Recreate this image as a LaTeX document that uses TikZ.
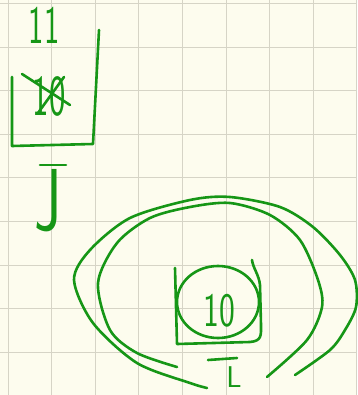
\documentclass[tikz,border=0pt]{standalone}
\usepackage{graphicx}
\definecolor{paper}{RGB}{253,252,238}
\definecolor{gridline}{RGB}{214,212,198}
\definecolor{ink}{RGB}{22,150,22}
\tikzset{pen/.style={ink,line width=2.6pt,line cap=round,line join=round},
  hand/.style={text=ink,inner sep=0pt,font=\sffamily\fontsize{#1}{#1}\selectfont}}
\begin{document}
\begin{tikzpicture}[x=1pt,y=-1pt]
  \fill[paper] (0,0) rectangle (357,395); \useasboundingbox (0,0) rectangle (357,395);
  \foreach \i in {0,...,8} {\draw[gridline,line width=1pt] ({8+43.6*\i},0)--({8+43.6*\i},395);}
  \foreach \i in {0,...,9} {\draw[gridline,line width=1pt] (0,{3.5+43.6*\i})--(357,{3.5+43.6*\i});}
  % top state, crossed out
  \node[hand=54] (top) at (44,25) {\scalebox{0.6}[1]{11}};
  \draw[pen] (12,77)--(12,146)--(93,144)--(99,30);
  \node[hand=58] (cross) at (49,96) {\scalebox{0.6}[1]{10}};
  \draw[pen] (22,74)--(70,105); \draw[pen] (38,113)--(64,77);
  \node[hand=88] (jlabel) at (48,201) {\scalebox{0.7}[1]{J}}; \draw[pen] (40,165)--(66,165);
  % lower state with its two loops
  \draw[pen] (175,268)--(177,344)--(250,342) .. controls (262,341) and (261,335) .. (261,325)
    --(260,285) .. controls (259,275) and (253,268) .. (252,260);
  \draw[pen] (218,302) ellipse (41 and 36);
  \node[hand=48] (state) at (219,311) {\scalebox{0.7}[1]{10}};
  \node[hand=30] (llabel) at (234,377) {L}; \draw[pen] (208,360)--(237,358);
  \draw[pen] plot[smooth] coordinates {(207,388) (190,383) (137,363) (93,323) (74,280) (90,250)
    (130,218) (190,200) (230,197) (280,207) (313,227) (340,255) (355,280) (356,307) (345,330) (330,350) (295,375)};
  \draw[pen] plot[smooth] coordinates {(177,367) (137,353) (110,330) (98,283) (117,243) (150,218)
    (190,207) (230,203) (270,215) (300,240) (318,280) (322,307) (307,340) (267,377)};
\end{tikzpicture}
\end{document}
